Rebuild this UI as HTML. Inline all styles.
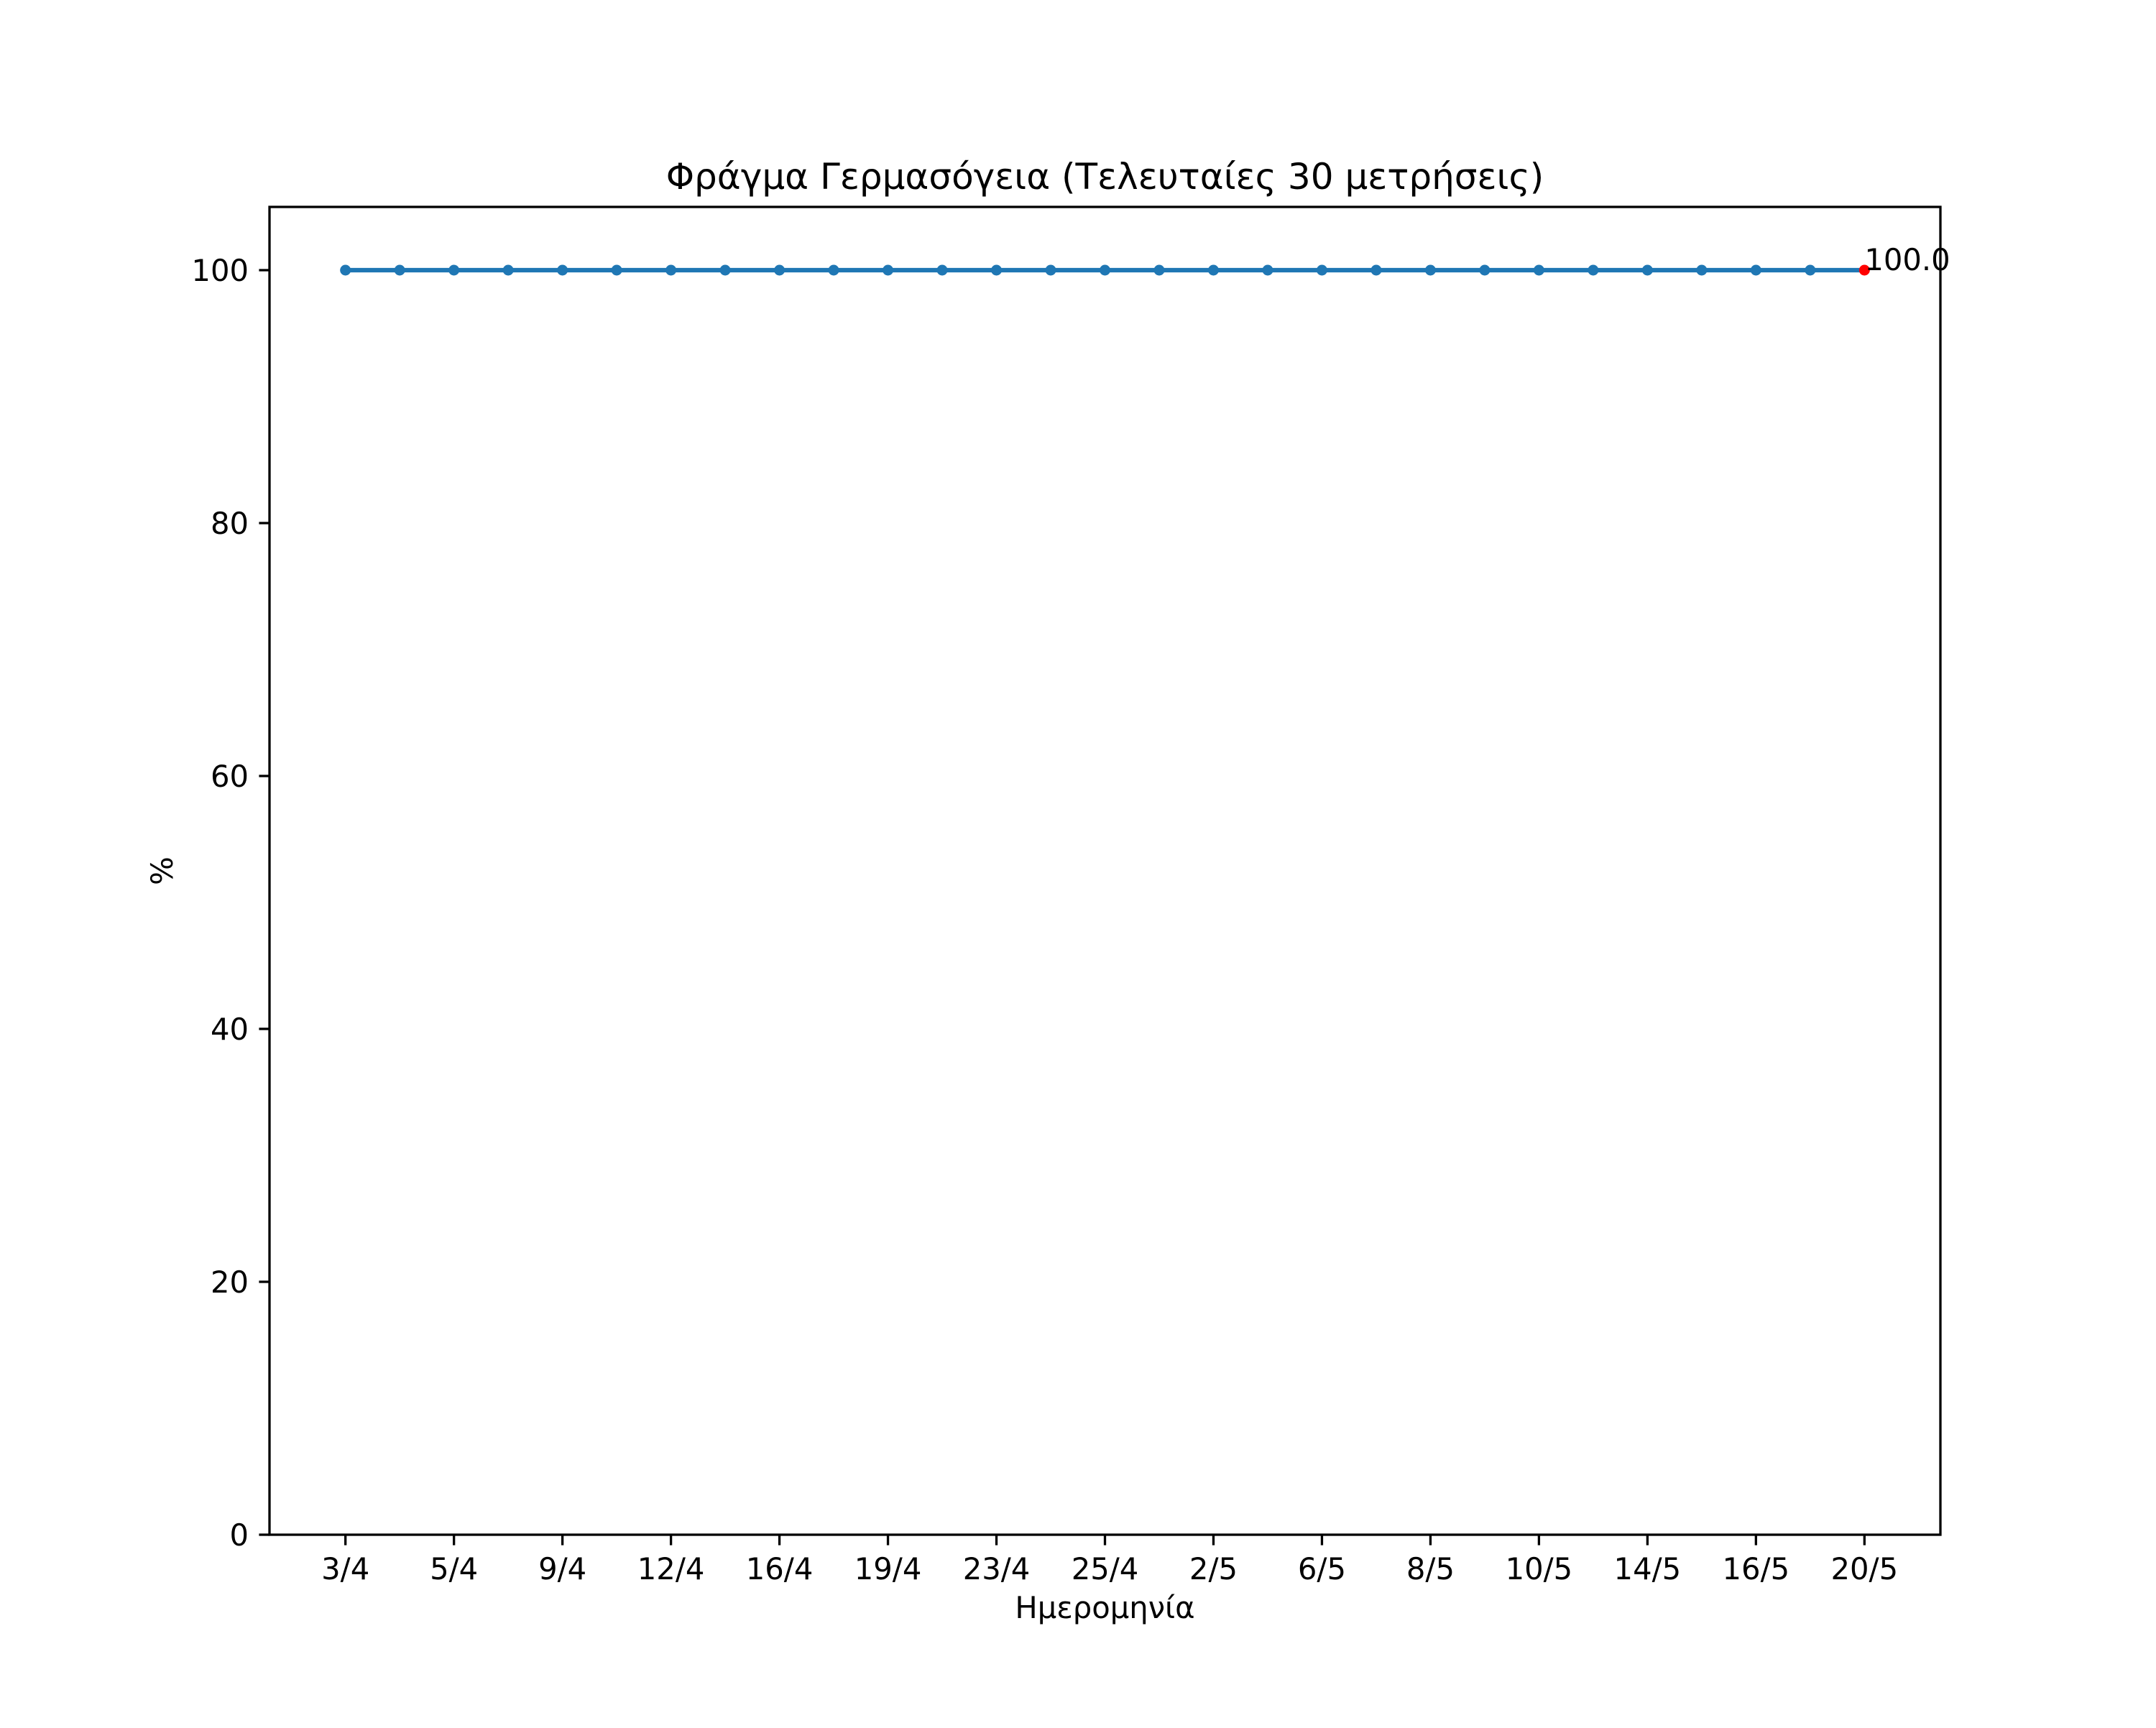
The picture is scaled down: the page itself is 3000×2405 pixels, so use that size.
<!DOCTYPE html>
<html><head><meta charset="utf-8"><style>
html,body{margin:0;padding:0;background:#fff}
svg text{font-family:"DejaVu Sans","Liberation Sans",sans-serif;fill:#000}
</style></head><body>
<svg id="chart" width="3000" height="2400" viewBox="0 0 3000 2400" xmlns="http://www.w3.org/2000/svg">
<rect width="3000" height="2400" fill="#fff"/>
<text x="1537.5" y="263" font-size="50" text-anchor="middle">Φράγμα Γερμασόγεια (Τελευταίες 30 μετρήσεις)</text>
<g id="plot"></g>
<rect x="375" y="288" width="2325" height="1848" fill="none" stroke="#000" stroke-width="3.3"/>
<text x="1537.5" y="2252" font-size="41.7" text-anchor="middle">Ημερομηνία</text>
<text x="0" y="0" font-size="41.7" text-anchor="middle" transform="translate(240,1212) rotate(-90)">%</text>
</svg>
<script>
const dates = ["3/4","4/4","5/4","7/4","9/4","10/4","12/4","14/4","16/4","17/4","19/4","21/4","23/4","24/4","25/4","27/4","2/5","4/5","6/5","7/5","8/5","9/5","10/5","12/5","14/5","15/5","16/5","18/5","20/5"];
const values = [100,100,100,100,100,100,100,100,100,100,100,100,100,100,100,100,100,100,100,100,100,100,100,100,100,100,100,100,100];
const yTicks = [0,20,40,60,80,100];

const NS = "http://www.w3.org/2000/svg";
const L=375,R=2700,T=288,B=2136;
const n = dates.length;
const xMin = -0.05*(n-1), xMax = (n-1)*1.05;
const yMin = 0, yMax = 105;
function xs(i){return L+(i-xMin)/(xMax-xMin)*(R-L);}
function ys(v){return B-(v-yMin)/(yMax-yMin)*(B-T);}
const g = document.getElementById('plot');
function mk(tag, attrs){const e=document.createElementNS(NS,tag);for(const k in attrs)e.setAttribute(k,attrs[k]);g.appendChild(e);return e;}

yTicks.forEach(t=>{
  const y=ys(t);
  const tk=mk('line',{x1:L-14.6,x2:L,y1:y,y2:y,stroke:'#000','stroke-width':3.3});
  
  
  const lb=mk('text',{x:L-29,y:y+15,'font-size':41.7,'text-anchor':'end'});
  lb.textContent=t;
  
  
});
dates.forEach((d,i)=>{
  if(i%2!==0)return;
  const x=xs(i);
  const tk=mk('line',{x1:x,x2:x,y1:B,y2:B+14.6,stroke:'#000','stroke-width':3.3});
  
  
  const lb=mk('text',{x:x,y:B+62,'font-size':41.7,'text-anchor':'middle'});
  lb.textContent=d;
  
  
});
const pts=values.map((v,i)=>xs(i)+','+ys(v)).join(' ');
const line=mk('polyline',{points:pts,fill:'none',stroke:'#1f77b4','stroke-width':6.25,'stroke-linejoin':'round'});


values.forEach((v,i)=>{
  const last=i===n-1;
  const c=mk('circle',{cx:xs(i),cy:ys(v),r:7.5,fill:last?'#ff0000':'#1f77b4'});
  
  
});
const lv=values[n-1];
const ann=mk('text',{x:xs(n-1),y:ys(lv),'font-size':41.7});
ann.textContent=lv.toFixed(1);


</script>
</body></html>
